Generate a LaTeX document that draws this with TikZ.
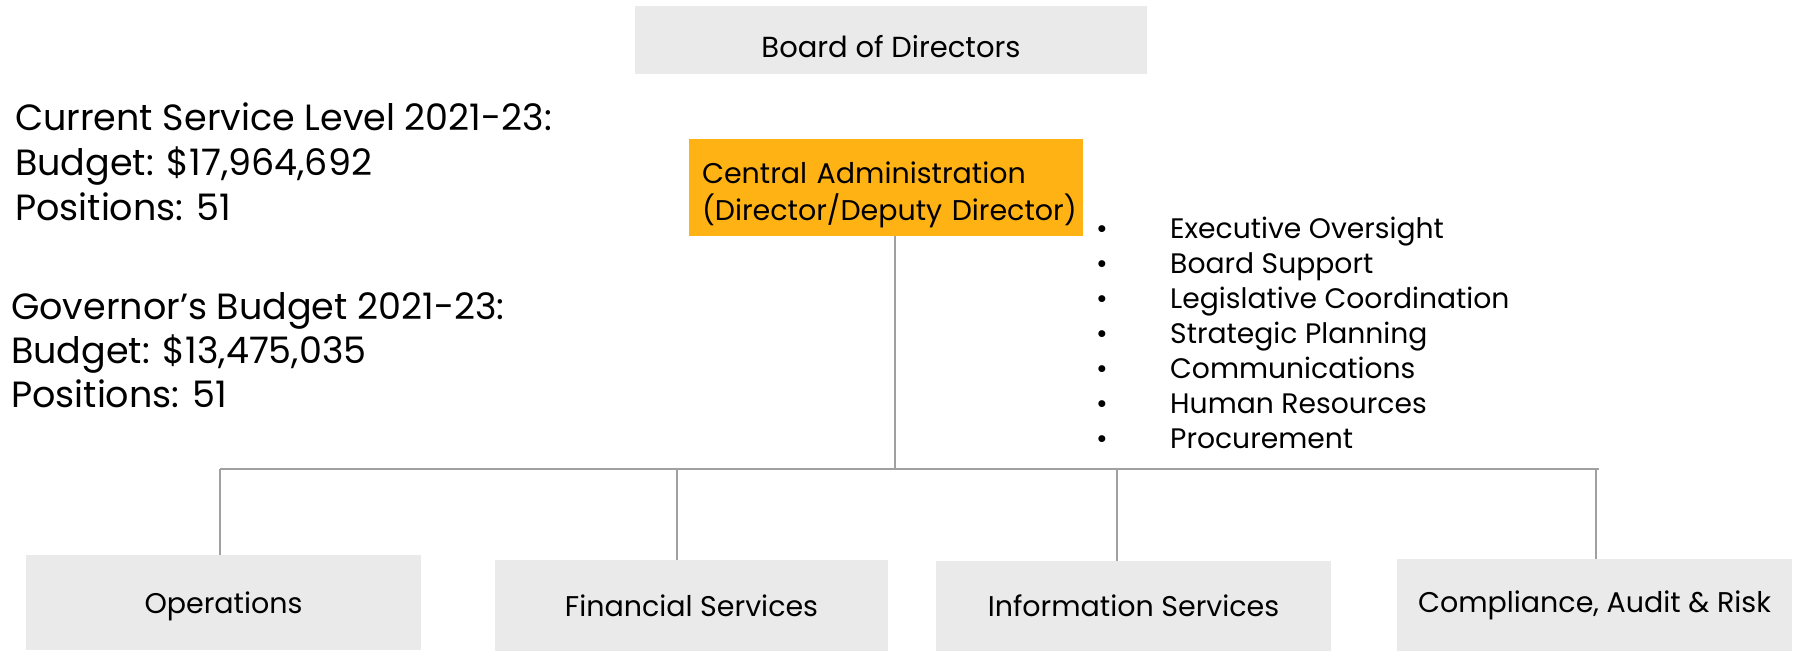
\documentclass[tikz,border=0pt]{standalone}
\usepackage{fontspec}
\setmainfont{Poppins}
\definecolor{boxgray}{RGB}{234,234,234}
\definecolor{adminorange}{RGB}{255,178,20}
\definecolor{linegray}{RGB}{160,160,160}
\tikzset{
  graybox/.style={fill=boxgray, draw=none, inner sep=0pt, font=\fontsize{28.5}{32}\selectfont},
  conn/.style={draw=linegray, line width=1.3pt},
  lefttext/.style={anchor=base west, inner sep=0pt, font=\fontsize{36.5}{42}\selectfont},
  bullettext/.style={anchor=base west, inner sep=0pt, font=\fontsize{28.2}{32}\selectfont},
}
\begin{document}
\begin{tikzpicture}[x=1pt,y=-1pt]
\useasboundingbox (0,0) rectangle (1795,653);
% top boxes
\node[graybox, font=\fontsize{29}{32}\selectfont, minimum width=512, minimum height=68] (board) at (891,40) {\rule{0pt}{35.5pt}Board of Directors};
\node[fill=adminorange, inner sep=0pt, minimum width=394, minimum height=97, text width=368, align=left, font=\fontsize{28.5}{37}\selectfont] (admin) at (886,187.5) {\makebox[368pt][l]{\rule{0pt}{37pt}Central Administration}\\\makebox[368pt][l]{(Director/Deputy Director)}};
% bottom boxes
\node[graybox, minimum width=395, minimum height=95] (ops) at (223.5,602.5) {\rule{0pt}{28.5pt}Operations};
\node[graybox, minimum width=393, minimum height=91] (fin) at (691.5,605.5) {Financial Services};
\node[graybox, minimum width=395, minimum height=90] (info) at (1133.5,606) {Information Services};
\node[graybox, minimum width=395, minimum height=92] (comp) at (1594.5,605) {Compliance, Audit \& Risk};
% connectors
\coordinate (hub) at (895,469);
\coordinate (hl) at (220,469);
\coordinate (hr) at (1599,469);
\coordinate (d2) at (677,469);
\coordinate (d3) at (1117,469);
\coordinate (d4) at (1596,469);
\draw[conn] (admin.south -| hub) -- (hub);
\draw[conn] (hl) -- (hr);
\draw[conn] (hl) -- (hl |- ops.north);
\draw[conn] (d2) -- (d2 |- fin.north);
\draw[conn] (d3) -- (d3 |- info.north);
\draw[conn] (d4) -- (d4 |- comp.north);
% left text
\node[lefttext] (l1) at (15,130) {Current Service Level 2021-23:};
\node[lefttext] (l2) at (15,175) {Budget: \$17,964,692};
\node[lefttext] (l3) at (15,220) {Positions: 51};
\node[lefttext] (l4) at (11,319) {Governor’s Budget 2021-23:};
\node[lefttext] (l5) at (11,363) {Budget: \$13,475,035};
\node[lefttext] (l6) at (11,407) {Positions: 51};
% bullets
\foreach \t [count=\i] in {Executive Oversight,Board Support,Legislative Coordination,Strategic Planning,Communications,Human Resources,Procurement}{
  \pgfmathsetmacro{\yy}{238+35.1*(\i-1)}
  \node[bullettext] (b\i) at (1170,\yy) {\t};
  \node[bullettext, anchor=base] (m\i) at (1102,\yy) {\textbullet};
}
\end{tikzpicture}
\end{document}
